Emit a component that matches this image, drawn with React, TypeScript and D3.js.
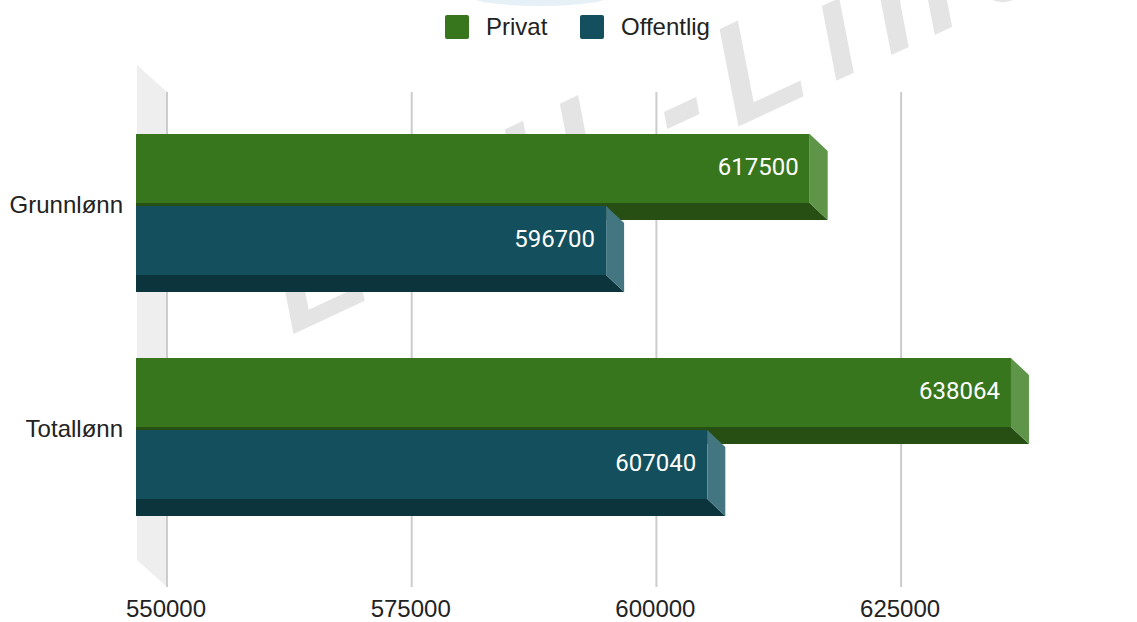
import React, { useRef, useEffect } from "react";
import * as d3 from "d3";

const categories = ["Grunnlønn", "Totallønn"];
const seriesNames = ["Privat", "Offentlig"];
const privat = [617500, 638064];
const offentlig = [596700, 607040];
const tickValues = [550000, 575000, 600000, 625000];

const colors = {
  Privat: { front: "#38761d", bottom: "#274e13", side: "#5f9548" },
  Offentlig: { front: "#134f5c", bottom: "#0c343d", side: "#447682" },
};

export default function App() {
  const ref = useRef(null);

  useEffect(() => {
    const svg = d3.select(ref.current);
    svg.selectAll("*").remove();

    const W = 1137, H = 622;
    const depthX = 18, depthY = 17; // bar depth
    const wallX = 30, wallY = 27;
    const frontLeft = 136;
    const gridTop = 92, gridBottom = 587;

    const x = d3.scaleLinear().domain([550000, 650000]).range([167, 167 + 4 * 244.7]);
    const y = d3.scaleBand().domain(categories).range([93, 541]);
    const ySub = d3.scaleBand().domain(seriesNames).range([0, 144]);
    const barH = ySub.bandwidth() - 3;

    // faint blob at top
    svg.append("ellipse").attr("cx", 540).attr("cy", -4).attr("rx", 70).attr("ry", 10)
      .attr("fill", "#dbe9f4").attr("opacity", 0.7);

    // watermark
    svg.append("text")
      .attr("transform", "translate(285,338) rotate(-25) skewX(-14)")
      .attr("font-family", "Liberation Sans, Arial, sans-serif")
      .attr("font-size", 140)
      .attr("font-weight", "bold")
      .attr("letter-spacing", 22)
      .attr("fill", "#000")
      .attr("opacity", 0.1)
      .text("EMIL-Line");

    // back wall
    const top0 = gridTop - wallY;
    svg.append("polygon")
      .attr("points", [
        [frontLeft + 1, top0],
        [frontLeft + 1 + wallX, gridTop],
        [frontLeft + 1 + wallX, gridBottom],
        [frontLeft + 1, gridBottom - wallY],
      ].map(p => p.join(",")).join(" "))
      .attr("fill", "#eeeeee");

    // gridlines
    svg.append("g").selectAll("line").data(tickValues).join("line")
      .attr("x1", d => x(d)).attr("x2", d => x(d))
      .attr("y1", gridTop).attr("y2", gridBottom)
      .attr("stroke", "#cccccc").attr("stroke-width", 2);

    // bars
    const rows = categories.flatMap((c, i) => [
      { cat: c, s: "Privat", v: privat[i] },
      { cat: c, s: "Offentlig", v: offentlig[i] },
    ]);

    const g = svg.append("g");
    rows.forEach(d => {
      const c = colors[d.s];
      const top = y(d.cat) + y.bandwidth() / 2 - 71 + ySub(d.s);
      const xb = x(d.v);
      const xf = xb - depthX;
      const bot = top + barH;
      g.append("rect").attr("x", frontLeft).attr("y", top)
        .attr("width", xf - frontLeft).attr("height", barH).attr("fill", c.front);
      g.append("polygon")
        .attr("points", [[frontLeft, bot], [xf, bot], [xb, bot + depthY], [frontLeft, bot + depthY]]
          .map(p => p.join(",")).join(" "))
        .attr("fill", c.bottom);
      g.append("polygon")
        .attr("points", [[xf, top], [xb, top + depthY], [xb, bot + depthY], [xf, bot]]
          .map(p => p.join(",")).join(" "))
        .attr("fill", c.side);
      g.append("text")
        .attr("x", xf - 11).attr("y", top + 41)
        .attr("text-anchor", "end")
        .attr("font-family", "Roboto, sans-serif")
        .attr("font-size", 24)
        .attr("fill", "#ffffff")
        .text(d.v);
    });

    // category labels
    svg.append("g").selectAll("text").data(categories).join("text")
      .attr("x", 123)
      .attr("y", d => y(d) + y.bandwidth() / 2 + 7.5)
      .attr("text-anchor", "end")
      .attr("font-family", "Liberation Sans, Arial, sans-serif")
      .attr("font-size", 24)
      .attr("fill", "#222")
      .text(d => d);

    // x tick labels
    svg.append("g").selectAll("text").data(tickValues).join("text")
      .attr("x", d => x(d) - 1)
      .attr("y", 617)
      .attr("text-anchor", "middle")
      .attr("font-family", "Liberation Sans, Arial, sans-serif")
      .attr("font-size", 24)
      .attr("fill", "#222")
      .text(d => d);

    // legend
    const legendX = [445, 580];
    const lg = svg.append("g");
    seriesNames.forEach((s, i) => {
      lg.append("rect").attr("x", legendX[i]).attr("y", 15).attr("width", 24).attr("height", 24)
        .attr("rx", 2).attr("fill", colors[s].front);
      lg.append("text").attr("x", legendX[i] + 41).attr("y", 34.5)
        .attr("font-family", "Liberation Sans, Arial, sans-serif")
        .attr("font-size", 24).attr("fill", "#222").text(s);
    });

    svg.attr("width", W).attr("height", H);
  }, []);

  return (
    <svg
      ref={ref}
      width={1137}
      height={622}
      style={{ position: "absolute", left: 0, top: 0, background: "#fff" }}
    />
  );
}
